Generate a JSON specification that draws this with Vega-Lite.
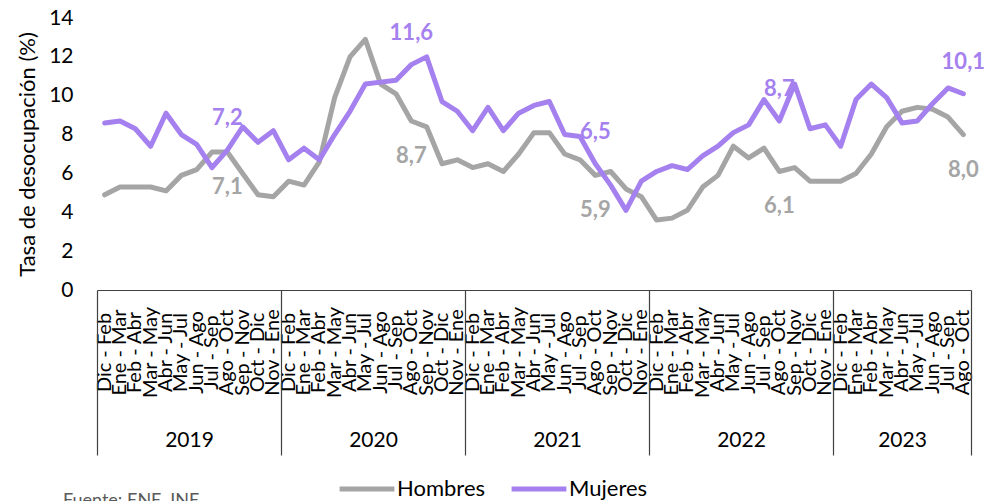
{
  "$schema": "https://vega.github.io/schema/vega-lite/v6.json",
  "width": 874,
  "height": 272,
  "autosize": {"type": "none"},
  "padding": {"left": 97, "top": 18, "right": 29, "bottom": 211},
  "config": {
    "font": "Lato",
    "view": {"stroke": null},
    "locale": {"number": {"decimal": ",", "thousands": ".", "grouping": [3], "currency": ["$", ""]}}
  },
  "title": {"text": "Fuente: ENE, INE", "orient": "bottom", "anchor": "start", "frame": "group", "fontSize": 18, "fontWeight": "normal", "color": "#595959", "offset": -8, "dx": -34},
  "data": {"values": [
    {"k": "2019|Dic - Feb", "Hombres": 4.9, "Mujeres": 8.6},
    {"k": "2019|Ene - Mar", "Hombres": 5.3, "Mujeres": 8.7},
    {"k": "2019|Feb - Abr", "Hombres": 5.3, "Mujeres": 8.3},
    {"k": "2019|Mar - May", "Hombres": 5.3, "Mujeres": 7.4},
    {"k": "2019|Abr - Jun", "Hombres": 5.1, "Mujeres": 9.1},
    {"k": "2019|May - Jul", "Hombres": 5.9, "Mujeres": 8.0},
    {"k": "2019|Jun - Ago", "Hombres": 6.2, "Mujeres": 7.5},
    {"k": "2019|Jul - Sep", "Hombres": 7.1, "Mujeres": 6.3},
    {"k": "2019|Ago - Oct", "Hombres": 7.1, "Mujeres": 7.2},
    {"k": "2019|Sep - Nov", "Hombres": 6.0, "Mujeres": 8.4},
    {"k": "2019|Oct - Dic", "Hombres": 4.9, "Mujeres": 7.6},
    {"k": "2019|Nov - Ene", "Hombres": 4.8, "Mujeres": 8.2},
    {"k": "2020|Dic - Feb", "Hombres": 5.6, "Mujeres": 6.7},
    {"k": "2020|Ene - Mar", "Hombres": 5.4, "Mujeres": 7.3},
    {"k": "2020|Feb - Abr", "Hombres": 6.6, "Mujeres": 6.7},
    {"k": "2020|Mar - May", "Hombres": 9.9, "Mujeres": 8.0},
    {"k": "2020|Abr - Jun", "Hombres": 12.0, "Mujeres": 9.2},
    {"k": "2020|May - Jul", "Hombres": 12.9, "Mujeres": 10.6},
    {"k": "2020|Jun - Ago", "Hombres": 10.6, "Mujeres": 10.7},
    {"k": "2020|Jul - Sep", "Hombres": 10.1, "Mujeres": 10.8},
    {"k": "2020|Ago - Oct", "Hombres": 8.7, "Mujeres": 11.6},
    {"k": "2020|Sep - Nov", "Hombres": 8.4, "Mujeres": 12.0},
    {"k": "2020|Oct - Dic", "Hombres": 6.5, "Mujeres": 9.7},
    {"k": "2020|Nov - Ene", "Hombres": 6.7, "Mujeres": 9.2},
    {"k": "2021|Dic - Feb", "Hombres": 6.3, "Mujeres": 8.2},
    {"k": "2021|Ene - Mar", "Hombres": 6.5, "Mujeres": 9.4},
    {"k": "2021|Feb - Abr", "Hombres": 6.1, "Mujeres": 8.2},
    {"k": "2021|Mar - May", "Hombres": 7.0, "Mujeres": 9.1},
    {"k": "2021|Abr - Jun", "Hombres": 8.1, "Mujeres": 9.5},
    {"k": "2021|May - Jul", "Hombres": 8.1, "Mujeres": 9.7},
    {"k": "2021|Jun - Ago", "Hombres": 7.0, "Mujeres": 8.0},
    {"k": "2021|Jul - Sep", "Hombres": 6.7, "Mujeres": 7.9},
    {"k": "2021|Ago - Oct", "Hombres": 5.9, "Mujeres": 6.5},
    {"k": "2021|Sep - Nov", "Hombres": 6.1, "Mujeres": 5.4},
    {"k": "2021|Oct - Dic", "Hombres": 5.2, "Mujeres": 4.1},
    {"k": "2021|Nov - Ene", "Hombres": 4.8, "Mujeres": 5.6},
    {"k": "2022|Dic - Feb", "Hombres": 3.6, "Mujeres": 6.1},
    {"k": "2022|Ene - Mar", "Hombres": 3.7, "Mujeres": 6.4},
    {"k": "2022|Feb - Abr", "Hombres": 4.1, "Mujeres": 6.2},
    {"k": "2022|Mar - May", "Hombres": 5.3, "Mujeres": 6.9},
    {"k": "2022|Abr - Jun", "Hombres": 5.9, "Mujeres": 7.4},
    {"k": "2022|May - Jul", "Hombres": 7.4, "Mujeres": 8.1},
    {"k": "2022|Jun - Ago", "Hombres": 6.8, "Mujeres": 8.5},
    {"k": "2022|Jul - Sep", "Hombres": 7.3, "Mujeres": 9.8},
    {"k": "2022|Ago - Oct", "Hombres": 6.1, "Mujeres": 8.7},
    {"k": "2022|Sep - Nov", "Hombres": 6.3, "Mujeres": 10.6},
    {"k": "2022|Oct - Dic", "Hombres": 5.6, "Mujeres": 8.3},
    {"k": "2022|Nov - Ene", "Hombres": 5.6, "Mujeres": 8.5},
    {"k": "2023|Dic - Feb", "Hombres": 5.6, "Mujeres": 7.4},
    {"k": "2023|Ene - Mar", "Hombres": 6.0, "Mujeres": 9.8},
    {"k": "2023|Feb - Abr", "Hombres": 7.0, "Mujeres": 10.6},
    {"k": "2023|Mar - May", "Hombres": 8.4, "Mujeres": 9.9},
    {"k": "2023|Abr - Jun", "Hombres": 9.2, "Mujeres": 8.6},
    {"k": "2023|May - Jul", "Hombres": 9.4, "Mujeres": 8.7},
    {"k": "2023|Jun - Ago", "Hombres": 9.3, "Mujeres": 9.6},
    {"k": "2023|Jul - Sep", "Hombres": 8.9, "Mujeres": 10.4},
    {"k": "2023|Ago - Oct", "Hombres": 8.0, "Mujeres": 10.1}
  ]},
  "transform": [{"fold": ["Hombres", "Mujeres"], "as": ["sexo", "v"]}],
  "encoding": {
    "y": {
      "field": "v", "type": "quantitative",
      "scale": {"domain": [0, 14]},
      "title": "Tasa de desocupación (%)",
      "axis": {"values": [0, 2, 4, 6, 8, 10, 12, 14], "grid": false, "domain": false, "ticks": false, "labelFontSize": 21, "labelColor": "#000", "labelPadding": 24, "titleFontSize": 22, "titleFontWeight": "normal", "titleColor": "#000", "titlePadding": 9}
    }
  },
  "layer": [
    {
      "mark": {"type": "line", "strokeWidth": 5, "strokeJoin": "round", "strokeCap": "round"},
      "encoding": {
        "x": {
          "field": "k", "type": "ordinal", "sort": null, "bandPosition": 0.5,
          "scale": {"type": "band", "paddingInner": 0, "paddingOuter": 0},
          "axis": {"title": null, "orient": "bottom", "labelExpr": "isString(datum.value) ? split(datum.value, '|')[1] : ''", "labelAngle": -90, "labelAlign": "center", "labelBaseline": "middle", "labelPadding": 62, "labelFontSize": 20, "labelColor": "#000", "labelOverlap": false, "labelBound": false, "labelFlush": false, "ticks": false, "domain": true, "domainColor": "#404040", "domainWidth": 1.2}
        },
        "color": {
          "field": "sexo", "type": "nominal",
          "scale": {"domain": ["Hombres", "Mujeres"], "range": ["#A5A5A5", "#A580EF"]},
          "legend": {"orient": "none", "legendX": 240, "legendY": 441, "direction": "horizontal", "title": null, "symbolType": "stroke", "symbolStrokeWidth": 5, "symbolSize": 3000, "labelFontSize": 22, "labelColor": "#000", "columnPadding": 15, "labelOffset": 0}
        }
      }
    },
    {
      "transform": [{"filter": "datum.sexo == 'Mujeres' && indexof(datum.k, 'Ago - Oct') >= 0"}],
      "mark": {"type": "text", "dy": -32, "fontSize": 22, "fontWeight": "bold", "color": "#A580EF"},
      "encoding": {
        "x": {
          "field": "k", "type": "ordinal", "sort": null, "bandPosition": 0.5,
          "axis": {
            "title": null, "orient": "bottom", "domain": false, "ticks": true, "tickBand": "extent", "tickSize": 165, "tickColor": "#404040", "tickWidth": 1.2,
            "tickOpacity": {"condition": {"test": "!isString(datum.value) || indexof(datum.value, 'Nov - Ene') >= 0 || datum.value == '2023|Ago - Oct'", "value": 1}, "value": 0},
            "labelExpr": "isString(datum.value) && ((indexof(datum.value, 'May - Jul') >= 0 && indexof(datum.value, '2023') < 0) || datum.value == '2023|Abr - Jun') ? split(datum.value, '|')[0] : ''",
            "labelOffset": {"condition": {"test": "isString(datum.value) && indexof(datum.value, '2023') >= 0", "value": 0}, "value": 7.67},
            "labelAngle": 0, "labelAlign": "center", "labelBaseline": "top", "labelPadding": -26, "labelFontSize": 21, "labelColor": "#000", "labelOverlap": false, "labelBound": false, "labelFlush": false
          }
        },
        "text": {"field": "v", "type": "quantitative", "format": ".1f"}
      }
    },
    {
      "transform": [{"filter": "datum.sexo == 'Hombres' && indexof(datum.k, 'Ago - Oct') >= 0"}],
      "mark": {"type": "text", "dy": 35, "fontSize": 22, "fontWeight": "bold", "color": "#A5A5A5"},
      "encoding": {
        "x": {"field": "k", "type": "ordinal", "sort": null, "bandPosition": 0.5, "axis": null},
        "text": {"field": "v", "type": "quantitative", "format": ".1f"}
      }
    }
  ],
  "resolve": {"axis": {"x": "independent"}}
}
